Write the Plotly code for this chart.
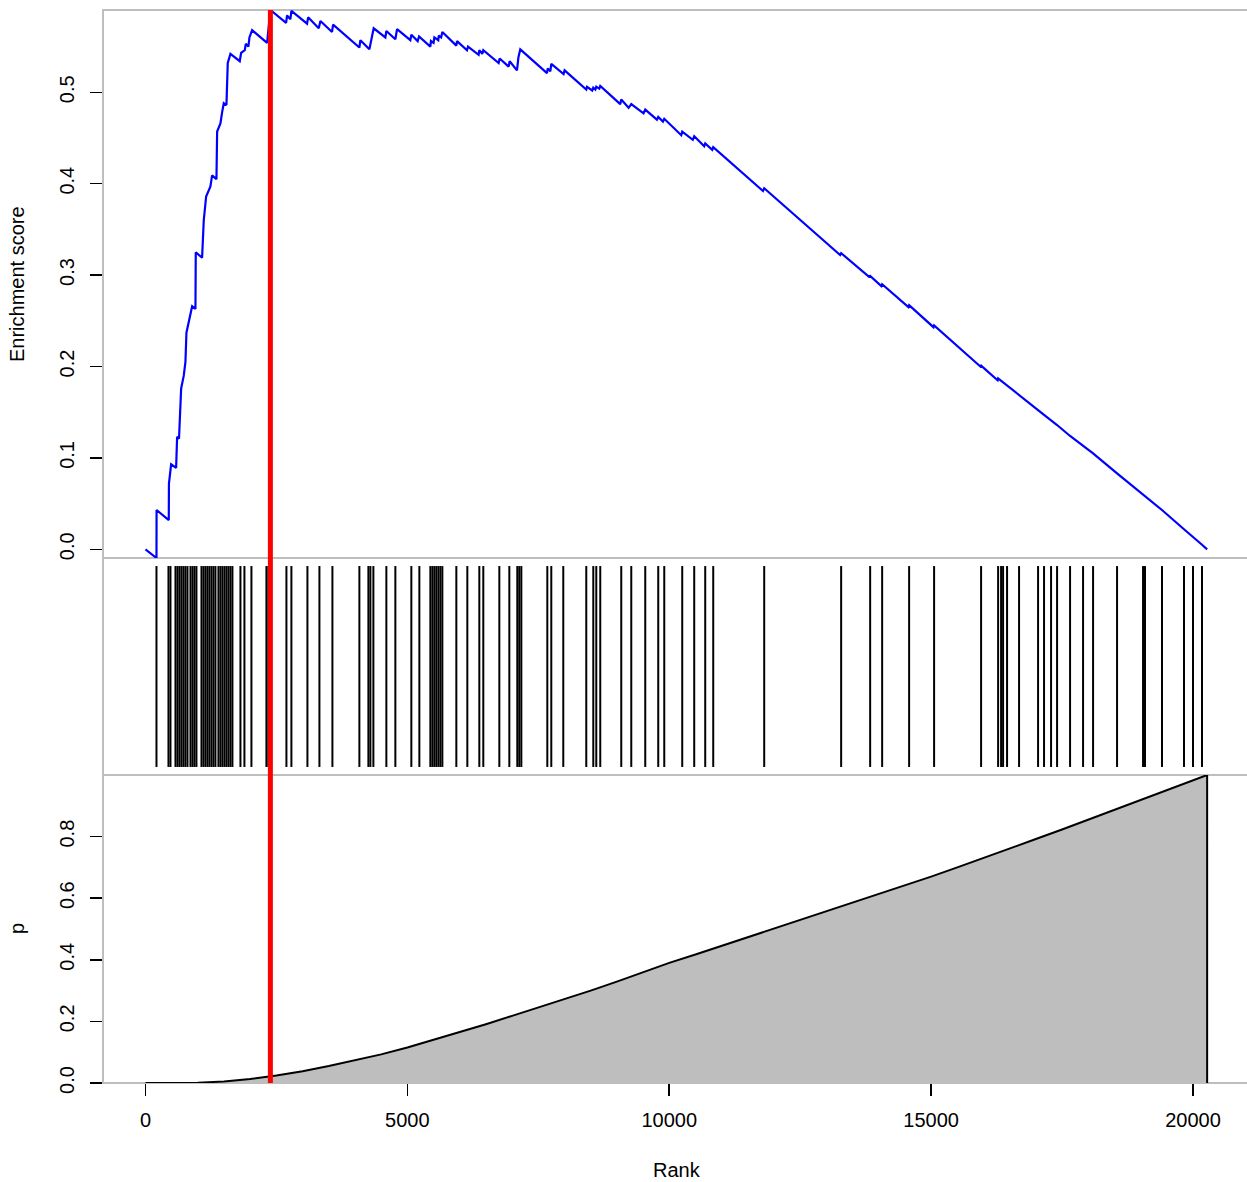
import plotly.graph_objects as go

# ---------------- data ----------------
hits = [210, 439, 477, 573, 611, 649, 687, 725, 763, 802, 859, 897, 935, 973,
        1069, 1107, 1145, 1183, 1221, 1260, 1298, 1336, 1393, 1431, 1469, 1508,
        1546, 1584, 1622, 1660, 1813, 1889, 2023, 2309, 2347, 2385, 2691, 2786,
        3092, 3321, 3569, 4084, 4256, 4294, 4351, 4599, 4771, 5076, 5229, 5439,
        5477, 5515, 5553, 5592, 5630, 5668, 5935, 6145, 6374, 6450, 6756, 6947,
        7099, 7137, 7176, 7672, 7748, 7977, 8416, 8550, 8607, 8683, 9084, 9275,
        9542, 9790, 9905, 10248, 10477, 10687, 10840, 11813, 13282, 13836, 14065,
        14580, 15057, 15954, 16279, 16336, 16374, 16450, 16679, 17042, 17156,
        17290, 17405, 17653, 17901, 18092, 18550, 19046, 19084, 19408, 19828,
        20000, 20172]

es_rank = [0, 210, 212, 445, 448, 490, 585, 604, 640, 655, 681, 731, 763, 782,
           840, 891, 954, 960, 1081, 1113, 1158, 1240, 1272, 1355, 1368, 1431,
           1463, 1495, 1546, 1571, 1622, 1800, 1826, 1896, 1915, 1965, 1985, 2036,
           2322, 2385, 2685, 2703, 2767, 2786, 3085, 3105, 3308, 3340, 3562, 3582,
           4084, 4103, 4275, 4357, 4580, 4599, 4771, 4803, 5057, 5076, 5197, 5223,
           5439, 5450, 5500, 5515, 5590, 5600, 5645, 5668, 5935, 5948, 6139, 6158,
           6361, 6374, 6430, 6450, 6743, 6762, 6934, 6953, 7093, 7120, 7156, 7666,
           7680, 7730, 7748, 7983, 8002, 8416, 8430, 8530, 8550, 8590, 8607, 8665,
           8683, 9065, 9084, 9224, 9275, 9510, 9542, 9765, 9790, 9880, 9905, 10230,
           10248, 10450, 10477, 10668, 10687, 10820, 10840, 11790, 11813, 13263,
           13282, 13815, 13836, 14050, 14065, 14567, 14580, 15045, 15057, 15940,
           15954, 16270, 16279, 16450, 16679, 17042, 17156, 17290, 17405, 17653,
           17901, 18092, 18550, 19046, 19084, 19408, 19828, 20000, 20172, 20270]
es_value = [0.000, -0.0095, 0.043, 0.032, 0.072, 0.093, 0.089, 0.123, 0.121, 0.141,
            0.176, 0.190, 0.205, 0.237, 0.254, 0.266, 0.263, 0.325, 0.319, 0.360,
            0.386, 0.397, 0.409, 0.405, 0.457, 0.466, 0.478, 0.488, 0.486, 0.532,
            0.542, 0.534, 0.543, 0.546, 0.553, 0.550, 0.560, 0.568, 0.554, 0.590,
            0.576, 0.584, 0.580, 0.589, 0.575, 0.582, 0.570, 0.578, 0.566, 0.574,
            0.549, 0.557, 0.547, 0.570, 0.560, 0.567, 0.558, 0.569, 0.557, 0.563,
            0.556, 0.561, 0.550, 0.556, 0.554, 0.560, 0.557, 0.562, 0.560, 0.566,
            0.551, 0.556, 0.546, 0.550, 0.541, 0.546, 0.542, 0.546, 0.532, 0.537,
            0.528, 0.534, 0.524, 0.538, 0.547, 0.521, 0.526, 0.523, 0.531, 0.520,
            0.524, 0.503, 0.506, 0.502, 0.505, 0.503, 0.506, 0.504, 0.507, 0.487,
            0.492, 0.483, 0.487, 0.477, 0.481, 0.470, 0.473, 0.468, 0.471, 0.453,
            0.457, 0.448, 0.452, 0.441, 0.444, 0.437, 0.440, 0.392, 0.395, 0.322,
            0.324, 0.298, 0.299, 0.288, 0.290, 0.265, 0.267, 0.243, 0.245, 0.200,
            0.201, 0.185, 0.187, 0.179, 0.169, 0.152, 0.147, 0.141, 0.136, 0.124,
            0.113, 0.105, 0.083, 0.060, 0.059, 0.043, 0.022, 0.014, 0.005, 0.000]

p_rank = [0, 500, 1000, 1500, 2000, 2500, 3000, 3500, 4000, 4500, 5000, 5500,
          6000, 6500, 7000, 7500, 8000, 8500, 9000, 9500, 10000, 10500, 11000,
          11500, 12000, 12500, 13000, 13500, 14000, 14500, 15000, 15500, 16000,
          16500, 17000, 17500, 18000, 18500, 19000, 19500, 20000, 20270]
p_value = [0.0, 0.0, 0.001, 0.005, 0.013, 0.024, 0.038, 0.055, 0.073, 0.093, 0.115,
           0.140, 0.165, 0.191, 0.218, 0.245, 0.272, 0.300, 0.329, 0.359, 0.390,
           0.417, 0.445, 0.473, 0.501, 0.529, 0.558, 0.587, 0.613, 0.641, 0.670,
           0.700, 0.730, 0.761, 0.792, 0.823, 0.855, 0.887, 0.919, 0.951, 0.983,
           1.000]

x_ticks = [0, 5000, 10000, 15000, 20000]
es_ticks = [0.0, 0.1, 0.2, 0.3, 0.4, 0.5]
p_ticks = [0.0, 0.2, 0.4, 0.6, 0.8]

# ---------------- figure ----------------
FONT = "Liberation Sans, Arial, Helvetica, sans-serif"
FS = 20
GREY = "#BEBEBE"
X_RANGE = [-811, 21031]
D_BOT = [0.0, 0.28705]
D_MID = [0.28705, 0.48928]
D_TOP = [0.48928, 1.0]

fig = go.Figure()

fig.add_trace(go.Scatter(x=es_rank, y=es_value, mode="lines",
                         line=dict(color="#0000FF", width=2.2),
                         xaxis="x", yaxis="y", hoverinfo="skip"))

hx, hy = [], []
for h in hits:
    hx += [h, h, None]
    hy += [0, 1, None]
fig.add_trace(go.Scatter(x=hx, y=hy, mode="lines",
                         line=dict(color="black", width=2),
                         xaxis="x2", yaxis="y2", hoverinfo="skip"))

fig.add_trace(go.Scatter(x=p_rank + [p_rank[-1]], y=p_value + [0],
                         mode="lines", fill="tozeroy", fillcolor=GREY,
                         line=dict(color="black", width=2),
                         xaxis="x3", yaxis="y3", hoverinfo="skip"))

peak = es_rank[es_value.index(max(es_value))]

shapes = []
for d in (D_TOP, D_MID, D_BOT):
    shapes.append(dict(type="rect", xref="paper", yref="paper",
                       x0=0, x1=1.01, y0=d[0], y1=d[1],
                       line=dict(color=GREY, width=2), layer="below"))
shapes.append(dict(type="line", xref="x3", yref="paper", x0=peak, x1=peak,
                   y0=0, y1=1, line=dict(color="#FF0000", width=5), layer="above"))

tickfont = dict(family=FONT, size=FS, color="black")
noaxis = dict(showgrid=False, zeroline=False, showline=False,
              showticklabels=False, ticks="")

fig.update_layout(
    width=1247, height=1182,
    margin=dict(l=103, r=0, t=10, b=99),
    paper_bgcolor="white", plot_bgcolor="white",
    showlegend=False,
    font=dict(family=FONT, size=FS, color="black"),
    shapes=shapes,
    xaxis=dict(domain=[0, 1], range=X_RANGE, anchor="y", **noaxis),
    xaxis2=dict(domain=[0, 1], range=X_RANGE, anchor="y2", **noaxis),
    xaxis3=dict(domain=[0, 1], range=X_RANGE, anchor="y3",
                tickvals=x_ticks, ticktext=[str(v) for v in x_ticks],
                ticks="outside", ticklen=12, tickwidth=1.5, tickcolor="black",
                tickfont=tickfont, showgrid=False, zeroline=False, showline=False,
                ticklabelstandoff=7),
    yaxis=dict(domain=D_TOP, range=[min(es_value), max(es_value)], anchor="x",
               tickvals=es_ticks, ticktext=[f"{v:.1f}" for v in es_ticks],
               tickangle=-90, ticks="outside", ticklen=12, tickwidth=1.5,
               tickcolor="black", tickfont=tickfont, showgrid=False,
               zeroline=False, showline=False, ticklabelstandoff=8),
    yaxis2=dict(domain=D_MID, range=[-0.04, 1.04], anchor="x2", **noaxis),
    yaxis3=dict(domain=D_BOT, range=[0, max(p_value)], anchor="x3",
                tickvals=p_ticks, ticktext=[f"{v:.1f}" for v in p_ticks],
                tickangle=-90, ticks="outside", ticklen=12, tickwidth=1.5,
                tickcolor="black", tickfont=tickfont, showgrid=False,
                zeroline=False, showline=False, ticklabelstandoff=8),
    annotations=[
        dict(text="Enrichment score", xref="paper", yref="paper",
             x=-0.0752, y=0.7446, xanchor="center", yanchor="middle",
             textangle=-90, showarrow=False, font=dict(family=FONT, size=FS)),
        dict(text="p", xref="paper", yref="paper",
             x=-0.0752, y=0.1445, xanchor="center", yanchor="middle",
             textangle=-90, showarrow=False, font=dict(family=FONT, size=FS)),
        dict(text="Rank", xref="paper", yref="paper",
             x=0.5017, y=-0.0811, xanchor="center", yanchor="middle",
             showarrow=False, font=dict(family=FONT, size=FS)),
    ],
)

# remove the browser's default 8px body margin so the figure fills the window
fig.write_html("out.html",
               config={"displayModeBar": False, "staticPlot": True},
               post_script="document.body.style.margin='0';"
                           "document.body.style.overflow='hidden';")
